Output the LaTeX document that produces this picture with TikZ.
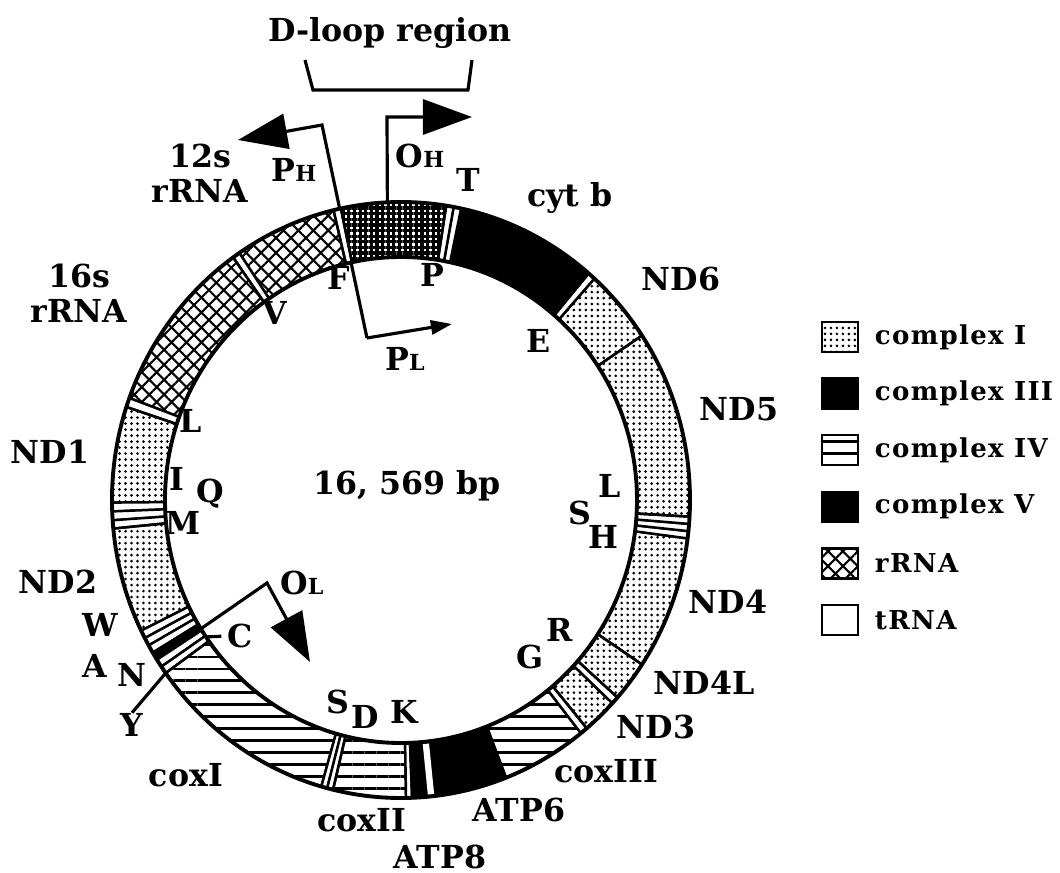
\documentclass[tikz,border=0pt]{standalone}
\usepackage{fontspec}
\setmainfont{DejaVu Serif}
\usepackage{tikz}
\usetikzlibrary{positioning,arrows.meta,patterns.meta}

% one sector of the (slightly oval) genome ring
\newcommand{\ringseg}[3]{%
  \path[#1] (#2:289 and 298) arc[start angle=#2, end angle=#3, x radius=289, y radius=298]
    -- (#3:236 and 243) arc[start angle=#3, end angle=#2, x radius=236, y radius=243] -- cycle;}
\newcommand{\lowcap}[1]{{\fontsize{6.3}{7}\selectfont #1}}

\begin{document}
\begin{tikzpicture}[x=0.01cm, y=0.01cm,
  lbl/.style={font=\bfseries\fontsize{9}{10}\selectfont, inner sep=0pt, align=center},
  legtext/.style={font=\bfseries\fontsize{7.4}{8}\selectfont\addfontfeatures{LetterSpace=5}, inner sep=0pt},
  legbox/.style={minimum width=10.2pt, minimum height=8.5pt, inner sep=0pt, line width=0.9pt},
  seg/.style={draw, line width=0.7pt},
  trna/.style={seg, fill=white},
  cI/.style={seg, pattern={Dots[distance=1.7pt, radius=0.42pt]}},
  cIII/.style={seg, fill=black},
  cIV/.style={seg, pattern={Lines[angle=0, distance=3.4pt, line width=0.7pt]}},
  cV/.style={seg, fill=black},
  rrna/.style={seg, pattern={Hatch[angle=45, distance=3pt, line width=0.6pt]}},
  dloop/.style={seg, pattern={Hatch[angle=0, distance=1.6pt, line width=0.9pt]}},
  prom/.style={line width=0.9pt},
  bigtip/.style={-{Triangle[length=14pt, width=10pt]}},
  smalltip/.style={-{Triangle[length=6pt, width=4pt]}}]
  \useasboundingbox (-401,-372) rectangle (659,500);

  % promoters and origins (behind the ring)
  \coordinate (plk) at (-34,162);
  \coordinate (phk) at (-79,375);
  \coordinate (phtip) at (-163,360);
  \coordinate (pltip) at (51,176);
  \draw[prom, bigtip] (plk) -- (phk) -- (phtip);
  \draw[prom, smalltip] (plk) -- (pltip);
  \coordinate (oh0) at (92.7:289 and 298);
  \coordinate (ohk) at (-14,383);
  \coordinate (ohtip) at (71,383);
  \draw[prom, bigtip] (oh0) -- (ohk) -- (ohtip);

  % the ring, gene by gene (angle from / to, style)
  \foreach \a/\b/\s in {102/103.5/trna, 103.5/124/rrna, 124/125.5/trna, 125.5/160/rrna,
      160/161.8/trna, 161.8/180.5/cI, 180.5/182.2/trna, 182.2/183.9/trna, 183.9/185.5/trna,
      185.5/206/cI, 206/207.6/trna, 207.6/209.2/trna, 209.2/210.8/trna, 210.8/212.4/cIII,
      212.4/214/trna, 214/215.5/trna, 215.5/254/cIV, 254/255.2/trna, 255.2/256.4/trna,
      256.4/271/cIV, 271/272.2/trna, 272.2/276/cV, 276/291.3/cV, 291.3/308.5/cIV,
      308.5/310/trna, 310/317/cI, 317/318.5/trna, 318.5/326.5/cI, 326.5/352.6/cI,
      352.6/354/trna, 354/355.4/trna, 355.4/356.8/trna, 356.8/393.5/cI, 393.5/408/cI,
      408/409.5/trna, 409.5/438/cIII, 438/439.5/trna, 439.5/441/trna, 441/462/dloop} {
    \ringseg{\s}{\a}{\b}
  }
  \draw[white, line width=1.8pt] (276:238 and 245) -- (276:287 and 296);
  \draw[line width=1.1pt] (0,0) ellipse [x radius=289, y radius=298];
  \draw[line width=1.1pt] (0,0) ellipse [x radius=236, y radius=243];

  % light strand origin
  \coordinate (ol0) at (212:236 and 243);
  \coordinate (olk) at (-134,-83);
  \coordinate (oltip) at (-91,-162);
  \draw[prom, bigtip] (ol0) -- (olk) -- (oltip);

  % D-loop bracket
  \coordinate (bl1) at (-96,440);
  \coordinate (bl2) at (-88,410);
  \coordinate (br2) at (67,410);
  \coordinate (br1) at (71,440);
  \draw[prom] (bl1) -- (bl2) -- (br2) -- (br1);
  \node[lbl] (dloop) at (-11,467) {D-loop region};

  % labels round the top
  \node[lbl] (rrna12) at (-201,327) {12s\\rRNA};
  \node[lbl] (rrna16) at (-322,207) {16s\\rRNA};
  \node[lbl] (ph) at (-107,330) {P\lowcap{H}};
  \node[lbl] (oh) at (19,344) {O\lowcap{H}};
  \node[lbl] (tT) at (67,320) {T};
  \node[lbl] (cytb) at (169,302) {cyt b};
  \node[lbl] (nd6) at (280,221) {ND6};
  \node[lbl] (tP) at (31,225) {P};
  \node[lbl] (tF) at (-62,222) {F};
  \node[lbl] (tV) at (-126,187) {V};
  \node[lbl] (tE) at (138,159) {E};
  \node[lbl] (pl) at (4,141) {P\lowcap{L}};

  % labels at the sides
  \node[lbl] (nd5) at (338,91) {ND5};
  \node[lbl] (tL1) at (-210,79) {L};
  \node[lbl] (nd1) at (-351,48) {ND1};
  \node[lbl] (tI) at (-224,21) {I};
  \node[lbl] (tQ) at (-191,6) {Q};
  \node[lbl] (tM) at (-218,-23) {M};
  \node[lbl] (size) at (6,14) {16, 569 bp};
  \node[lbl] (tL2) at (209,14) {L};
  \node[lbl] (tS2) at (179,-13) {S};
  \node[lbl] (tH) at (202,-37) {H};
  \node[lbl] (nd4) at (327,-102) {ND4};
  \node[lbl] (tR) at (159,-130) {R};
  \node[lbl] (tG) at (129,-157) {G};
  \node[lbl] (nd4l) at (303,-183) {ND4L};
  \node[lbl] (nd3) at (255,-227) {ND3};
  \node[lbl] (nd2) at (-343,-82) {ND2};
  \node[lbl] (ol) at (-99,-83) {O\lowcap{L}};

  % labels round the bottom
  \node[lbl] (cox3) at (205,-271) {coxIII};
  \node[lbl] (atp6) at (118,-310) {ATP6};
  \node[lbl] (atp8) at (39,-357) {ATP8};
  \node[lbl] (cox2) at (-39,-320) {coxII};
  \node[lbl] (tS1) at (-63,-202) {S};
  \node[lbl] (tD) at (-36,-217) {D};
  \node[lbl] (tK) at (3,-212) {K};
  \node[lbl] (cox1) at (-215,-275) {coxI};
  \node[lbl] (tY) at (-269,-225) {Y};
  \node[lbl] (tA) at (-306,-166) {A};
  \node[lbl] (tN) at (-269,-175) {N};
  \node[lbl] (tW) at (-301,-125) {W};
  \node[lbl] (tC) at (-161,-136) {C};
  \coordinate (y0) at (215.5:289 and 298);
  \coordinate (c0) at (214.3:236 and 243);
  \draw[prom] (tY.north) -- (y0);
  \draw[prom, shorten >=1.5pt] (c0) -- (tC.west);

  % Legend
  \foreach \i/\s/\t in {0/cI/complex I, 1/cIII/complex III, 2/cIV/complex IV,
      3/cV/complex V, 4/rrna/rRNA, 5/trna/tRNA} {
    \node[legbox, \s] (box\i) at (439,163-56.6*\i) {};
    \node[legtext, right=4.3pt of box\i] (leg\i) {\t};
  }
\end{tikzpicture}
\end{document}
